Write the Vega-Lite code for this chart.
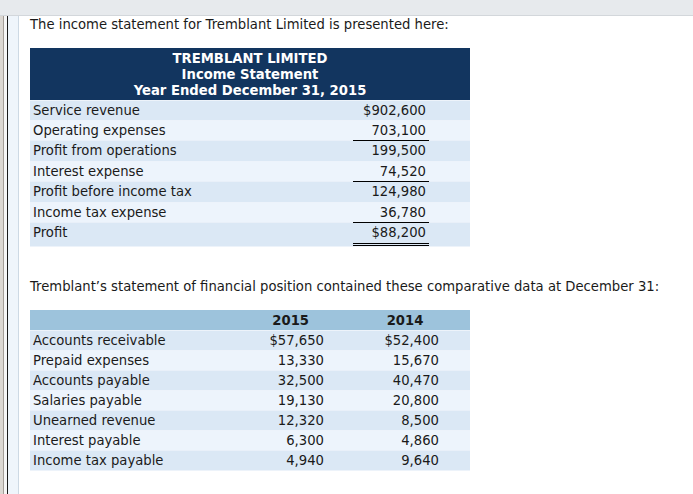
{
  "$schema": "https://vega.github.io/schema/vega-lite/v6.json",
  "width": 693,
  "height": 494,
  "padding": 0,
  "autosize": {"type": "none"},
  "background": "#ffffff",
  "config": {
    "view": {"stroke": null},
    "text": {"font": "DejaVu Sans", "fontSize": 13.2, "color": "#1a1a1a"}
  },
  "datasets": {
    "notes": [
      {"key": "intro", "text": "The income statement for Tremblant Limited is presented here:"},
      {"key": "heading", "text": "TREMBLANT LIMITED\nIncome Statement\nYear Ended December 31, 2015"},
      {"key": "para", "text": "Tremblant’s statement of financial position contained these comparative data at December 31:"}
    ],
    "years": [{"year": "2015"}, {"year": "2014"}],
    "income": [
      {"row": 1, "item": "Service revenue", "amount": 902600, "dollar": true, "underline": ""},
      {"row": 2, "item": "Operating expenses", "amount": 703100, "dollar": false, "underline": "single"},
      {"row": 3, "item": "Profit from operations", "amount": 199500, "dollar": false, "underline": ""},
      {"row": 4, "item": "Interest expense", "amount": 74520, "dollar": false, "underline": "single"},
      {"row": 5, "item": "Profit before income tax", "amount": 124980, "dollar": false, "underline": ""},
      {"row": 6, "item": "Income tax expense", "amount": 36780, "dollar": false, "underline": "single"},
      {"row": 7, "item": "Profit", "amount": 88200, "dollar": true, "underline": "double"}
    ],
    "balance": [
      {"row": 1, "item": "Accounts receivable", "y2015": 57650, "y2014": 52400, "dollar": true},
      {"row": 2, "item": "Prepaid expenses", "y2015": 13330, "y2014": 15670, "dollar": false},
      {"row": 3, "item": "Accounts payable", "y2015": 32500, "y2014": 40470, "dollar": false},
      {"row": 4, "item": "Salaries payable", "y2015": 19130, "y2014": 20800, "dollar": false},
      {"row": 5, "item": "Unearned revenue", "y2015": 12320, "y2014": 8500, "dollar": false},
      {"row": 6, "item": "Interest payable", "y2015": 6300, "y2014": 4860, "dollar": false},
      {"row": 7, "item": "Income tax payable", "y2015": 4940, "y2014": 9640, "dollar": false}
    ]
  },
  "resolve": {"scale": {"y": "independent"}},
  "layer": [
    {
      "layer": [
        {"data": {"values": [{}]}, "mark": {"type": "rect", "color": "#e7eaed"},
         "encoding": {"x": {"datum": 0, "type": "quantitative", "axis": null, "scale": {"domain": [0,1,2,3,4,5,6,7,8,9,10,11,12,13,14,15,16,17,18], "range": [0,3,4,7,8,18,19,30,33,250,290.7,324,353,405,426,429,439,470,693], "nice": false, "zero": false}}, "x2": {"datum": 18},
                      "y": {"datum": 0, "type": "quantitative", "axis": null, "scale": {"domain": [0,1,2,3,4,5,6,7,8], "range": [0,15,16,48,100,277,310,330,494], "nice": false, "zero": false}}, "y2": {"datum": 1}}},
        {"data": {"values": [{}]}, "mark": {"type": "rect", "color": "#d3d7db"},
         "encoding": {"x": {"datum": 0, "type": "quantitative", "axis": null}, "x2": {"datum": 18}, "y": {"datum": 1, "type": "quantitative", "axis": null}, "y2": {"datum": 2}}},
        {"data": {"values": [{}]}, "mark": {"type": "rect", "color": "#dcd8d3"},
         "encoding": {"x": {"datum": 0, "type": "quantitative", "axis": null}, "x2": {"datum": 1}, "y": {"datum": 2, "type": "quantitative", "axis": null}, "y2": {"datum": 8}}},
        {"data": {"values": [{}]}, "mark": {"type": "rect", "color": "#a39d97"},
         "encoding": {"x": {"datum": 1, "type": "quantitative", "axis": null}, "x2": {"datum": 2}, "y": {"datum": 2, "type": "quantitative", "axis": null}, "y2": {"datum": 8}}},
        {"data": {"values": [{}]}, "mark": {"type": "rect", "color": "#f6f6f6"},
         "encoding": {"x": {"datum": 2, "type": "quantitative", "axis": null}, "x2": {"datum": 3}, "y": {"datum": 2, "type": "quantitative", "axis": null}, "y2": {"datum": 8}}},
        {"data": {"values": [{}]}, "mark": {"type": "rect", "color": "#1a1a1a"},
         "encoding": {"x": {"datum": 3, "type": "quantitative", "axis": null}, "x2": {"datum": 4}, "y": {"datum": 2, "type": "quantitative", "axis": null}, "y2": {"datum": 8}}},
        {"data": {"values": [{}]}, "mark": {"type": "rect", "color": "#eff5fb"},
         "encoding": {"x": {"datum": 4, "type": "quantitative", "axis": null}, "x2": {"datum": 5}, "y": {"datum": 2, "type": "quantitative", "axis": null}, "y2": {"datum": 8}}},
        {"data": {"values": [{}]}, "mark": {"type": "rect", "color": "#cdd9e4"},
         "encoding": {"x": {"datum": 5, "type": "quantitative", "axis": null}, "x2": {"datum": 6}, "y": {"datum": 2, "type": "quantitative", "axis": null}, "y2": {"datum": 8}}},
        {"data": {"values": [{}]}, "mark": {"type": "rect", "color": "#12355f"},
         "encoding": {"x": {"datum": 7, "type": "quantitative", "axis": null}, "x2": {"datum": 17}, "y": {"datum": 3, "type": "quantitative", "axis": null}, "y2": {"datum": 4}}},
        {"data": {"values": [{}]}, "mark": {"type": "rect", "color": "#9dc3dc"},
         "encoding": {"x": {"datum": 7, "type": "quantitative", "axis": null}, "x2": {"datum": 17}, "y": {"datum": 6, "type": "quantitative", "axis": null}, "y2": {"datum": 7}}},
        {"data": {"name": "notes"}, "transform": [{"filter": "datum.key == 'intro'"}],
         "mark": {"type": "text", "align": "left", "baseline": "middle", "dy": 9.3},
         "encoding": {"x": {"datum": 7, "type": "quantitative", "axis": null}, "y": {"datum": 2, "type": "quantitative", "axis": null}, "text": {"field": "text", "type": "nominal"}}},
        {"data": {"name": "notes"}, "transform": [{"filter": "datum.key == 'heading'"}],
         "mark": {"type": "text", "align": "center", "baseline": "middle", "dy": 10.8, "fontWeight": "bold", "color": "#ffffff", "lineBreak": "\n", "lineHeight": 16},
         "encoding": {"x": {"datum": 9, "type": "quantitative", "axis": null}, "y": {"datum": 3, "type": "quantitative", "axis": null}, "text": {"field": "text", "type": "nominal"}}},
        {"data": {"name": "notes"}, "transform": [{"filter": "datum.key == 'para'"}],
         "mark": {"type": "text", "align": "left", "baseline": "middle", "dy": 10.2},
         "encoding": {"x": {"datum": 7, "type": "quantitative", "axis": null}, "y": {"datum": 5, "type": "quantitative", "axis": null}, "text": {"field": "text", "type": "nominal"}}},
        {"data": {"name": "years"}, "transform": [{"filter": "datum.year == '2015'"}],
         "mark": {"type": "text", "align": "center", "baseline": "middle", "dy": 10.7, "fontWeight": "bold"},
         "encoding": {"x": {"datum": 10, "type": "quantitative", "axis": null}, "y": {"datum": 6, "type": "quantitative", "axis": null}, "text": {"field": "year", "type": "nominal"}}},
        {"data": {"name": "years"}, "transform": [{"filter": "datum.year == '2014'"}],
         "mark": {"type": "text", "align": "center", "baseline": "middle", "dy": 10.7, "fontWeight": "bold"},
         "encoding": {"x": {"datum": 13, "type": "quantitative", "axis": null}, "y": {"datum": 6, "type": "quantitative", "axis": null}, "text": {"field": "year", "type": "nominal"}}}
      ]
    },
    {
      "data": {"name": "income"},
      "layer": [
        {"mark": {"type": "rect"},
         "encoding": {"x": {"datum": 7, "type": "quantitative", "axis": null}, "x2": {"datum": 17},
                      "y": {"field": "row", "type": "quantitative", "bin": {"binned": true, "step": 1}, "axis": null, "scale": {"domain": [1,2,3,4,5,6,7,8], "range": [100,120,140,161,181,202,222,246], "nice": false, "zero": false}},
                      "color": {"condition": {"test": "datum.row % 2 == 1", "value": "#dbe8f5"}, "value": "#edf4fc"}}},
        {"mark": {"type": "text", "align": "left", "baseline": "middle", "dy": 11.2},
         "encoding": {"x": {"datum": 8, "type": "quantitative", "axis": null}, "y": {"field": "row", "type": "quantitative", "axis": null}, "text": {"field": "item", "type": "nominal"}}},
        {"transform": [{"filter": "!datum.dollar"}],
         "mark": {"type": "text", "align": "right", "baseline": "middle", "dy": 11.2},
         "encoding": {"x": {"datum": 14, "type": "quantitative", "axis": null}, "y": {"field": "row", "type": "quantitative", "axis": null}, "text": {"field": "amount", "type": "quantitative", "format": ",.0f"}}},
        {"transform": [{"filter": "datum.dollar"}],
         "mark": {"type": "text", "align": "right", "baseline": "middle", "dy": 11.2},
         "encoding": {"x": {"datum": 14, "type": "quantitative", "axis": null}, "y": {"field": "row", "type": "quantitative", "axis": null}, "text": {"field": "amount", "type": "quantitative", "format": "$,.0f"}}},
        {"transform": [{"filter": "datum.underline == 'single'"}],
         "mark": {"type": "rule", "color": "#000000", "strokeWidth": 1, "yOffset": 20.5},
         "encoding": {"x": {"datum": 12, "type": "quantitative", "axis": null}, "x2": {"datum": 15}, "y": {"field": "row", "type": "quantitative", "axis": null}}},
        {"transform": [{"filter": "datum.underline == 'double'"}],
         "mark": {"type": "rule", "color": "#000000", "strokeWidth": 1, "yOffset": 21.5},
         "encoding": {"x": {"datum": 12, "type": "quantitative", "axis": null}, "x2": {"datum": 15}, "y": {"field": "row", "type": "quantitative", "axis": null}}},
        {"transform": [{"filter": "datum.underline == 'double'"}],
         "mark": {"type": "rule", "color": "#000000", "strokeWidth": 1, "yOffset": 23.5},
         "encoding": {"x": {"datum": 12, "type": "quantitative", "axis": null}, "x2": {"datum": 15}, "y": {"field": "row", "type": "quantitative", "axis": null}}}
      ]
    },
    {
      "data": {"name": "balance"},
      "layer": [
        {"mark": {"type": "rect"},
         "encoding": {"x": {"datum": 7, "type": "quantitative", "axis": null}, "x2": {"datum": 17},
                      "y": {"field": "row", "type": "quantitative", "bin": {"binned": true, "step": 1}, "axis": null, "scale": {"domain": [1,2,3,4,5,6,7,8], "range": [330,350,370,390,410,430,450,470], "nice": false, "zero": false}},
                      "color": {"condition": {"test": "datum.row % 2 == 1", "value": "#dbe8f5"}, "value": "#edf4fc"}}},
        {"mark": {"type": "text", "align": "left", "baseline": "middle", "dy": 10.8},
         "encoding": {"x": {"datum": 8, "type": "quantitative", "axis": null}, "y": {"field": "row", "type": "quantitative", "axis": null}, "text": {"field": "item", "type": "nominal"}}},
        {"transform": [{"filter": "!datum.dollar"}],
         "mark": {"type": "text", "align": "right", "baseline": "middle", "dy": 10.8},
         "encoding": {"x": {"datum": 11, "type": "quantitative", "axis": null}, "y": {"field": "row", "type": "quantitative", "axis": null}, "text": {"field": "y2015", "type": "quantitative", "format": ",.0f"}}},
        {"transform": [{"filter": "datum.dollar"}],
         "mark": {"type": "text", "align": "right", "baseline": "middle", "dy": 10.8},
         "encoding": {"x": {"datum": 11, "type": "quantitative", "axis": null}, "y": {"field": "row", "type": "quantitative", "axis": null}, "text": {"field": "y2015", "type": "quantitative", "format": "$,.0f"}}},
        {"transform": [{"filter": "!datum.dollar"}],
         "mark": {"type": "text", "align": "right", "baseline": "middle", "dy": 10.8},
         "encoding": {"x": {"datum": 16, "type": "quantitative", "axis": null}, "y": {"field": "row", "type": "quantitative", "axis": null}, "text": {"field": "y2014", "type": "quantitative", "format": ",.0f"}}},
        {"transform": [{"filter": "datum.dollar"}],
         "mark": {"type": "text", "align": "right", "baseline": "middle", "dy": 10.8},
         "encoding": {"x": {"datum": 16, "type": "quantitative", "axis": null}, "y": {"field": "row", "type": "quantitative", "axis": null}, "text": {"field": "y2014", "type": "quantitative", "format": "$,.0f"}}}
      ]
    }
  ]
}
